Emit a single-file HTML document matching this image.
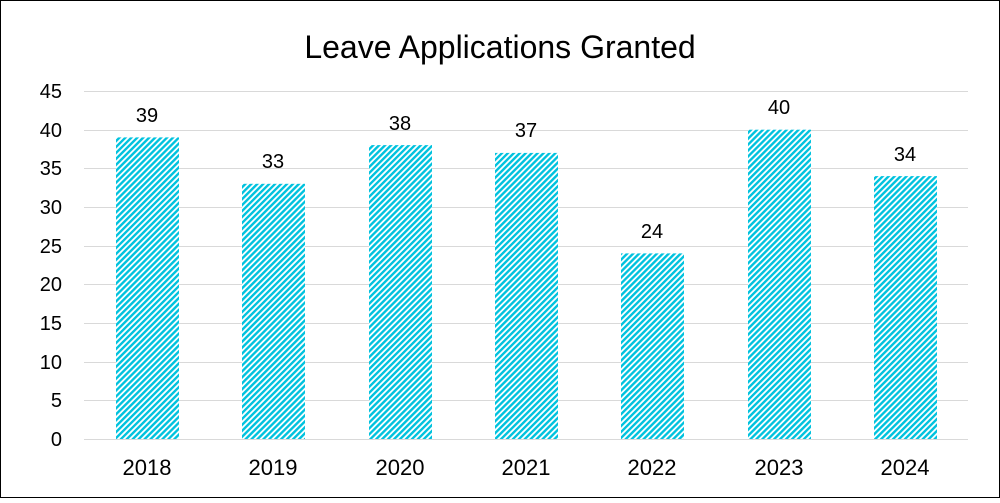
<!DOCTYPE html>
<html><head><style>body{margin:0;background:#fff}</style></head><body>
<svg width="1000" height="498" xmlns="http://www.w3.org/2000/svg" font-family="Liberation Sans, sans-serif">
<defs><pattern id="h" width="4.2" height="4.2" patternUnits="userSpaceOnUse" patternTransform="rotate(45)"><rect width="4.2" height="4.2" fill="#fff"/><rect width="2.4" height="4.2" fill="#00C2DE"/></pattern></defs>
<rect x="0.5" y="0.5" width="999" height="497" fill="#fff" stroke="#000"/>
<text x="500" y="58" font-size="32" text-anchor="middle">Leave Applications Granted</text>
<g stroke="#d9d9d9" stroke-width="1">
<line x1="84" x2="968" y1="91.5" y2="91.5"/><line x1="84" x2="968" y1="130.5" y2="130.5"/><line x1="84" x2="968" y1="168.5" y2="168.5"/><line x1="84" x2="968" y1="207.5" y2="207.5"/><line x1="84" x2="968" y1="246.5" y2="246.5"/><line x1="84" x2="968" y1="284.5" y2="284.5"/><line x1="84" x2="968" y1="323.5" y2="323.5"/><line x1="84" x2="968" y1="362.5" y2="362.5"/><line x1="84" x2="968" y1="400.5" y2="400.5"/><line x1="84" x2="968" y1="439.5" y2="439.5"/>
</g>
<g font-size="20" text-anchor="end">
<text x="62" y="98">45</text><text x="62" y="137">40</text><text x="62" y="175">35</text><text x="62" y="214">30</text><text x="62" y="253">25</text><text x="62" y="291">20</text><text x="62" y="330">15</text><text x="62" y="369">10</text><text x="62" y="407">5</text><text x="62" y="446">0</text>
</g>
<g fill="url(#h)">
<rect x="116" y="137.4" width="63" height="301.6"/>
<rect x="242" y="183.8" width="63" height="255.2"/>
<rect x="369" y="145.1" width="63" height="293.9"/>
<rect x="495" y="152.9" width="63" height="286.1"/>
<rect x="621" y="253.4" width="63" height="185.6"/>
<rect x="748" y="129.7" width="63" height="309.3"/>
<rect x="874" y="176.1" width="63" height="262.9"/>
</g>
<g font-size="20" text-anchor="middle">
<text x="147" y="122">39</text><text x="273" y="168">33</text><text x="400" y="130">38</text><text x="526" y="137">37</text><text x="652" y="238">24</text><text x="779" y="114">40</text><text x="905" y="161">34</text>
</g>
<g font-size="22" text-anchor="middle">
<text x="147" y="475">2018</text><text x="273" y="475">2019</text><text x="400" y="475">2020</text><text x="526" y="475">2021</text><text x="652" y="475">2022</text><text x="779" y="475">2023</text><text x="905" y="475">2024</text>
</g>
</svg>
</body></html>
